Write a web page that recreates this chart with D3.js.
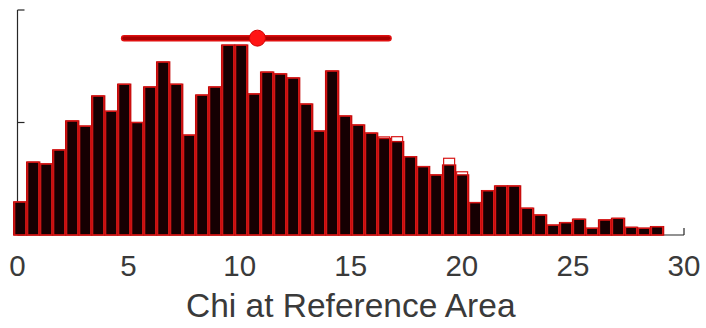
<!DOCTYPE html>
<html>
<head>
<meta charset="utf-8">
<script src="https://cdn.jsdelivr.net/npm/d3@7"></script>
<style>
  html, body { margin: 0; padding: 0; background: #fff; }
  svg { display: block; }
  text { font-family: "Liberation Sans", Arial, sans-serif; fill: #3a3a3a; }
</style>
</head>
<body>
<svg id="chart" width="706" height="328"></svg>
<script>
// Histogram of chi values: 50 equal-width bins
const binStart = -0.17;
const binWidth = 0.585;
const filledCounts = [
  14.7, 32.4, 31.6, 37.8, 50.7, 48.4, 61.8, 55.0, 67.0, 50.0,
  65.8, 76.9, 67.0, 44.4, 62.2, 65.8, 84.4, 84.4, 62.7, 72.4,
  71.6, 69.8, 58.2, 46.2, 72.9, 52.9, 48.9, 45.3, 42.9, 41.5,
  34.8, 30.4, 26.7, 31.1, 26.7, 14.4, 19.7, 21.8, 21.8, 11.9,
  8.9, 4.4, 5.5, 7.0, 3.0, 6.7, 7.4, 3.4, 3.0, 3.7
];
const outlineCounts = [
  14.7, 32.4, 31.6, 37.8, 50.7, 48.4, 61.8, 55.0, 67.0, 50.0,
  65.8, 76.9, 67.0, 44.4, 62.2, 65.8, 84.4, 84.4, 62.7, 72.4,
  71.6, 69.8, 58.2, 46.2, 72.9, 52.9, 48.9, 45.3, 43.6, 43.7,
  34.8, 30.4, 26.7, 34.1, 28.1, 14.4, 19.7, 21.8, 21.8, 11.9,
  8.9, 4.4, 5.5, 7.0, 3.0, 6.7, 7.4, 3.4, 3.0, 3.7
];
// Mean and spread summary drawn above the histogram
const summaryMean = 10.8;
const summaryLow = 4.8;
const summaryHigh = 16.7;
const summaryLevel = 87.5;

const xTicks = [0, 5, 10, 15, 20, 25, 30];
const yTicks = [0, 50, 100];
const xLabel = "Chi at Reference Area";

const svg = d3.select("#chart");
const x = d3.scaleLinear().domain([0, 30]).range([17.5, 684]);
const y = d3.scaleLinear().domain([0, 100]).range([235, 10]);

const axisColor = "#262626";
const tickLen = 7;

// axes (drawn beneath the bars)
const ax = svg.append("g");
ax.append("line").attr("x1", x(0)).attr("x2", x(30)).attr("y1", y(0)).attr("y2", y(0))
  .attr("stroke", axisColor).attr("stroke-width", 1.2);
ax.append("line").attr("x1", x(0)).attr("x2", x(0)).attr("y1", y(0)).attr("y2", y(100))
  .attr("stroke", axisColor).attr("stroke-width", 1.2);
ax.selectAll(".xt").data(xTicks).enter().append("line")
  .attr("x1", d => x(d)).attr("x2", d => x(d))
  .attr("y1", y(0)).attr("y2", y(0) - tickLen)
  .attr("stroke", axisColor).attr("stroke-width", 1.2);
ax.selectAll(".yt").data(yTicks).enter().append("line")
  .attr("x1", x(0)).attr("x2", x(0) + tickLen)
  .attr("y1", d => y(d)).attr("y2", d => y(d))
  .attr("stroke", axisColor).attr("stroke-width", 1.2);

ax.selectAll(".xl").data(xTicks).enter().append("text")
  .attr("x", d => x(d)).attr("y", 276)
  .attr("text-anchor", "middle")
  .attr("font-size", 29.5)
  .text(d => d);

svg.append("text")
  .attr("x", x(15)).attr("y", 317)
  .attr("text-anchor", "middle")
  .attr("font-size", 33.5)
  .text(xLabel);

// filled histogram
const bars = svg.append("g");
bars.selectAll("rect").data(filledCounts).enter().append("rect")
  .attr("x", (d, i) => x(binStart + i * binWidth))
  .attr("width", (d, i) => x(binStart + (i + 1) * binWidth) - x(binStart + i * binWidth))
  .attr("y", d => y(d))
  .attr("height", d => y(0) - y(d))
  .attr("fill", "#160002")
  .attr("stroke", "#c40a0a")
  .attr("stroke-width", 1.4);

// outline histogram overlaid
const outl = svg.append("g");
outl.selectAll("rect").data(outlineCounts).enter().append("rect")
  .attr("x", (d, i) => x(binStart + i * binWidth) + 1)
  .attr("width", (d, i) => x(binStart + (i + 1) * binWidth) - x(binStart + i * binWidth) - 2)
  .attr("y", d => y(d))
  .attr("height", d => y(0) - y(d))
  .attr("fill", "none")
  .attr("stroke", "#d81818")
  .attr("stroke-width", 1.2);

// mean marker with spread bar
const summary = svg.append("g");
summary.append("line")
  .attr("x1", x(summaryLow)).attr("x2", x(summaryHigh))
  .attr("y1", y(summaryLevel)).attr("y2", y(summaryLevel))
  .attr("stroke", "#e01010").attr("stroke-width", 6.5).attr("stroke-linecap", "round");
summary.append("line")
  .attr("x1", x(summaryLow)).attr("x2", x(summaryHigh))
  .attr("y1", y(summaryLevel)).attr("y2", y(summaryLevel))
  .attr("stroke", "#a80000").attr("stroke-width", 3.5).attr("stroke-linecap", "round");
summary.append("circle")
  .attr("cx", x(summaryMean)).attr("cy", y(summaryLevel))
  .attr("r", 8)
  .attr("fill", "#ff1414")
  .attr("stroke", "#d00000").attr("stroke-width", 1);
</script>
</body>
</html>
